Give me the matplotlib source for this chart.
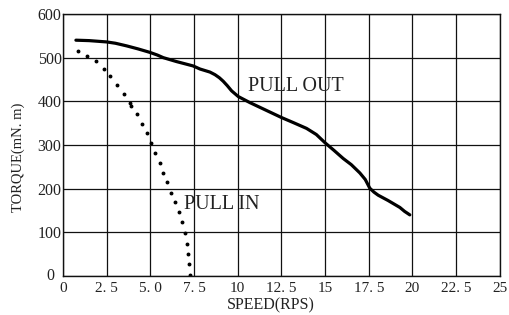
import matplotlib
matplotlib.use('Agg')
import matplotlib.pyplot as plt
import matplotlib.transforms as mtransforms

# pull out curve (speed rps, torque mN.m)
out_speed = [0.74, 1.5, 2.5, 3.0, 3.64, 4.3, 4.98, 5.4, 5.74, 6.5, 7.45, 7.84, 8.41, 8.7, 8.95, 9.17,
             9.4, 9.65, 10.03, 10.7, 11.6, 12.5, 13.2, 13.94, 14.5, 15.0, 15.5, 16.04, 16.5, 16.99,
             17.3, 17.56, 17.8, 18.04, 18.6, 19.28, 19.55, 19.85]
out_torque = [540, 539, 536, 533, 527, 520, 512, 506, 500, 491, 481, 474, 467, 461, 454, 446,
              436, 424, 411, 397, 380, 363, 351, 338, 324, 305, 288, 269, 255, 236,
              221, 201, 192, 185, 173, 157, 148, 140]

# pull in points
in_speed = [0.86, 1.38, 1.9, 2.33, 2.7, 3.1, 3.5, 3.83, 3.87, 4.25, 4.53, 4.8, 5.03, 5.28, 5.55,
            5.72, 5.95, 6.18, 6.41, 6.64, 6.8, 6.98, 7.1, 7.15, 7.2, 7.27]
in_torque = [515, 504, 493, 475, 457, 437, 417, 397, 389, 370, 348, 327, 304, 282, 259,
             236, 215, 190, 169, 147, 124, 99, 74, 50, 27, 2]

xticks = [0, 2.5, 5.0, 7.5, 10, 12.5, 15, 17.5, 20, 22.5, 25]
xlabels = ['0', '2. 5', '5. 0', '7. 5', '10', '12. 5', '15', '17. 5', '20', '22. 5', '25']
yticks = [0, 100, 200, 300, 400, 500, 600]

plt.rcParams['font.family'] = ['Liberation Serif', 'DejaVu Serif']

fig = plt.figure(figsize=(5.1, 3.15), dpi=100)
ax = fig.add_axes([0.1235, 0.1238, 0.8565, 0.8318])

ax.plot(out_speed, out_torque, color='black', lw=2.3, solid_joinstyle='round', solid_capstyle='round')
ax.plot(in_speed, in_torque, linestyle='none', marker='o', ms=1.8, color='black')

ax.set_xlim(0, 25)
ax.set_ylim(0, 600)
ax.set_xticks(xticks)
ax.set_xticklabels(xlabels)
ax.set_yticks(yticks)
ax.tick_params(axis='x', length=0, labelsize=11, colors='#222222', pad=4)
ax.tick_params(axis='y', length=0, labelsize=11.5, colors='#222222', pad=1)
ax.grid(True, color='#111111', lw=0.9)
for s in ax.spines.values():
    s.set_linewidth(1.0)
    s.set_color('#111111')

# the y "0" sits a little left and up, clear of the x "0"
lbl = ax.get_yticklabels()[0]
lbl.set_transform(lbl.get_transform() + mtransforms.ScaledTranslation(-0.07, 0.02, fig.dpi_scale_trans))

ax.text(10.6, 434, 'PULL OUT', fontsize=14.5, color='#222222', va='center')
ax.text(6.95, 163, 'PULL IN', fontsize=14.5, color='#222222', va='center')

fig.text(271 / 510, 0.032, 'SPEED(RPS)', fontsize=11.5, color='#222222', ha='center', va='center')
fig.text(18 / 510, 0.5, 'TORQUE(mN. m)', fontsize=10.5, color='#222222', ha='center', va='center',
         rotation=90)

fig.savefig('out.png', dpi=100)
